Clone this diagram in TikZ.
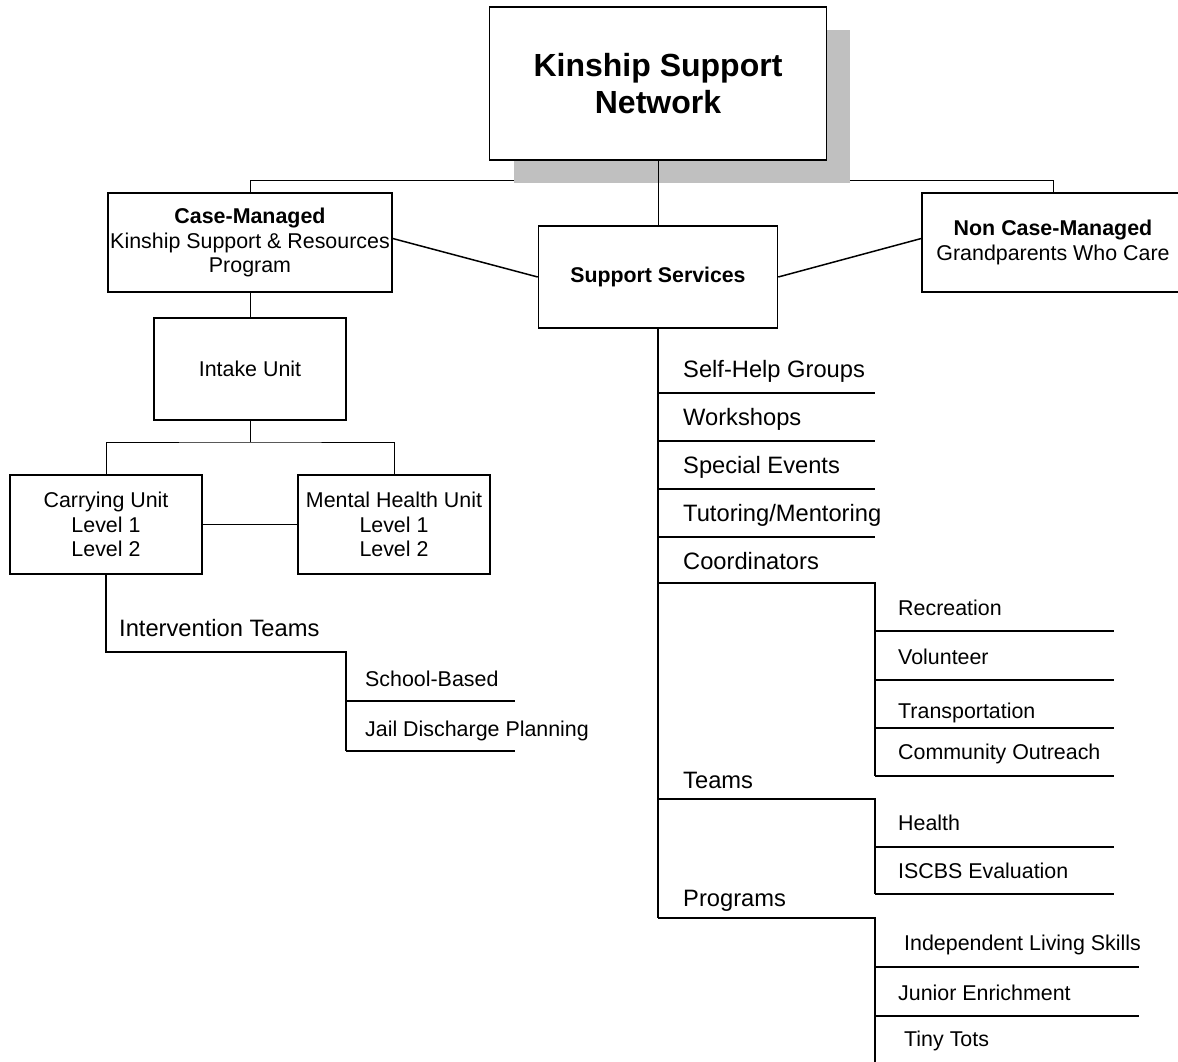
\documentclass[tikz,border=0pt]{standalone}
\usepackage{fontspec}
\setmainfont{Liberation Sans}
\definecolor{shadowgray}{RGB}{192,192,192}
\begin{document}
\begin{tikzpicture}[x=1pt,y=-1pt,
  box/.style={draw, line width=1.5pt, fill=white, align=center, inner sep=0pt},
  thinline/.style={line width=0.9pt},
  thickline/.style={line width=1.5pt},
  fs/.style={font=\fontsize{21.4}{24.5}\selectfont},
  fl/.style={font=\fontsize{23.7}{28}\selectfont},
  item/.style={anchor=base west, inner sep=0pt, fs},
  head/.style={anchor=base west, inner sep=0pt, fl}]

\useasboundingbox (0,0) rectangle (1178,1061);
\fill[white] (0,0) rectangle (1178,1061);

% second-level boxes
\node[box, minimum width=284pt, minimum height=99pt, fs] (cm) at (250,242.5)
  {\textbf{Case-Managed}\\Kinship Support \& Resources\\Program};
\node[box, minimum width=239pt, minimum height=102pt, font=\fontsize{21.3}{25}\selectfont\bfseries] (ss) at (658,277)
  {Support Services};
\node[box, minimum width=262pt, minimum height=99pt, fs] (ncm) at (1053,242.5)
  {\textbf{Non Case-Managed}\\Grandparents Who Care};

% bus line (under the shadow)
\coordinate (busL) at (250,180);
\draw[thinline] (cm.north) -- (cm.north |- busL) -| (ncm.north);

% shadow and title
\fill[shadowgray] (514,30) rectangle (850,183);
\node[box, minimum width=337pt, minimum height=153pt, font=\fontsize{32}{37}\selectfont\bfseries] (title) at (658,83.5)
  {Kinship Support\\Network};
\draw[thinline] (title.south) -- (ss.north);

% diagonal links
\draw[thickline] ([yshift=4pt]cm.east) -- (ss.west);
\draw[thickline] (ss.east) -- ([yshift=4pt]ncm.west);

% left branch
\node[box, minimum width=192pt, minimum height=102pt, fs] (intake) at (250,369) {Intake Unit};
\draw[thinline] (cm.south) -- (intake.north);
\node[box, minimum width=192pt, minimum height=99pt, fs] (carry) at (106,524.5)
  {Carrying Unit\\Level 1\\Level 2};
\node[box, minimum width=192pt, minimum height=99pt, fs] (mh) at (394,524.5)
  {Mental Health Unit\\Level 1\\Level 2};
\coordinate (ib) at (250,442);
\draw[thinline] (intake.south) -- (ib);
\draw[thinline] (carry.north) |- (ib) -| (mh.north);
\draw[thinline] (carry.east) -- (mh.west);

% intervention teams
\node[head] (it) at (119,636) {Intervention Teams};
\coordinate (itc) at (346,652);
\coordinate (ite) at (346,751);
\draw[thickline] (carry.south) |- (itc) -- (ite);
\node[item] (sb) at (365,686) {School-Based};
\node[item] (jd) at (365,736) {Jail Discharge Planning};
\coordinate (sbL) at (346,701); \coordinate (sbR) at (515,701);
\coordinate (jdR) at (515,751);
\draw[thickline] (sbL) -- (sbR);
\draw[thickline] (ite) -- (jdR);

% right list
\coordinate (vEnd) at (658,918);
\draw[thickline] (ss.south) -- (vEnd);

\node[head] (shg) at (683,377) {Self-Help Groups};
\node[head] (ws) at (683,425) {Workshops};
\node[head] (se) at (683,473) {Special Events};
\node[head] (tm) at (683,521) {Tutoring/Mentoring};
\node[head] (co) at (683,569) {Coordinators};
\node[head] (te) at (683,788) {Teams};
\node[head] (pr) at (683,906) {Programs};

\foreach \yy/\nm in {393/a,441/b,489/c,537/d}{
  \coordinate (l\nm) at (658,\yy); \coordinate (r\nm) at (875,\yy);
  \draw[thickline] (l\nm) -- (r\nm);
}

% coordinators group
\coordinate (coL) at (658,583); \coordinate (coR) at (875,583);
\coordinate (coB) at (875,776);
\draw[thickline] (coL) -- (coR) -- (coB);
\node[item] (rec) at (898,615) {Recreation};
\node[item] (vol) at (898,664) {Volunteer};
\node[item] (tra) at (898,718) {Transportation};
\node[item] (com) at (898,759) {Community Outreach};
\foreach \yy/\nm in {631/e,680/f,728/g,776/h}{
  \coordinate (l\nm) at (875,\yy); \coordinate (r\nm) at (1114,\yy);
  \draw[thickline] (l\nm) -- (r\nm);
}

% teams group
\coordinate (teL) at (658,799); \coordinate (teR) at (875,799);
\coordinate (teB) at (875,894);
\draw[thickline] (teL) -- (teR) -- (teB);
\node[item] (hea) at (898,830) {Health};
\node[item] (isc) at (898,878) {ISCBS Evaluation};
\foreach \yy/\nm in {847/i,894/j}{
  \coordinate (l\nm) at (875,\yy); \coordinate (r\nm) at (1114,\yy);
  \draw[thickline] (l\nm) -- (r\nm);
}

% programs group
\coordinate (prR) at (875,918); \coordinate (prB) at (875,1065);
\draw[thickline] (vEnd) -- (prR) -- (prB);
\node[item] (ils) at (904,950) {Independent Living Skills};
\node[item] (jen) at (898,1000) {Junior Enrichment};
\node[item] (tt) at (904,1046) {Tiny Tots};
\foreach \yy/\nm in {967/k,1016/m}{
  \coordinate (l\nm) at (875,\yy); \coordinate (r\nm) at (1139,\yy);
  \draw[thickline] (l\nm) -- (r\nm);
}
\end{tikzpicture}
\end{document}
